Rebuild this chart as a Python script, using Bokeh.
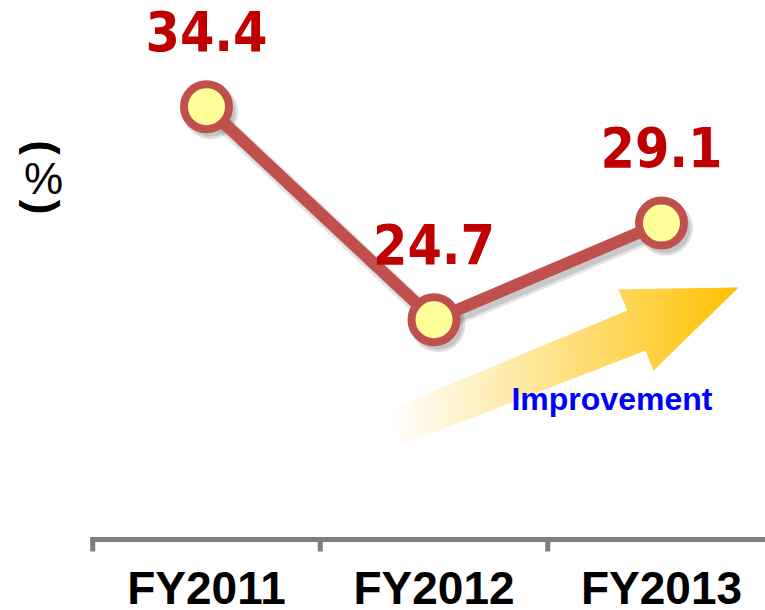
from bokeh.plotting import figure
from bokeh.models import Range1d, Label, ColumnDataSource
from bokeh.core.properties import value
from bokeh.embed import file_html
from bokeh.resources import INLINE
import math

# ---- data ----
categories = ["FY2011", "FY2012", "FY2013"]
ratio = [34.4, 24.7, 29.1]
value_labels = ["34.4", "24.7", "29.1"]
unit_label = "%"
arrow_text = "Improvement"

# arrow outline in data units (category index, value)
arrow_x = [0.7956, 1.8505, 1.8110, 2.3385, 1.9648, 1.9297, 0.8527]
arrow_y = [20.566, 25.119, 26.076, 26.167, 22.387, 23.298, 18.972]

idx = list(range(len(categories)))
boundaries = [i - 0.5 for i in idx]

LINE_RED = "#C0504D"
VAL_RED = "#C00000"
AXIS_GRAY = "#7F7F7F"

X0, X1 = -0.9055, 2.4571
Y0, Y1 = 11.458, 39.236
AXIS_Y = 14.691          # value level where the category axis sits
PX_PER_UNIT = 21.96      # vertical pixels per value unit
PX_PER_CAT = 227.5       # horizontal pixels per category

p = figure(width=765, height=610, output_backend="svg", toolbar_location=None,
           x_range=Range1d(X0, X1), y_range=Range1d(Y0, Y1),
           min_border_left=0, min_border_right=0, min_border_top=0, min_border_bottom=0)
p.outline_line_color = None
p.grid.visible = False
p.xaxis.visible = False
p.yaxis.visible = False
p.background_fill_color = "white"

# ---- category axis (line + boundary ticks) ----
tick_len = 12 / PX_PER_UNIT
p.segment(x0=[boundaries[0] - 2.5 / PX_PER_CAT], y0=[AXIS_Y], x1=[X1], y1=[AXIS_Y],
          line_color=AXIS_GRAY, line_width=5)
p.segment(x0=boundaries, y0=[AXIS_Y] * len(idx), x1=boundaries,
          y1=[AXIS_Y - tick_len] * len(idx), line_color=AXIS_GRAY, line_width=5)

cat_src = ColumnDataSource(dict(x=idx, y=[AXIS_Y] * len(idx), t=categories))
p.text(x="x", y="y", text="t", source=cat_src, text_align="center",
       text_baseline="middle", y_offset=48,
       text_font=value("Liberation Sans"), text_font_style="bold",
       text_font_size="46px", text_color="black")

# ---- gradient arrow (vertical strips) ----
def clip(poly, a, keep_greater):
    out = []
    n = len(poly)
    for k in range(n):
        P = poly[k]
        Q = poly[(k + 1) % n]
        inP = P[0] >= a if keep_greater else P[0] <= a
        inQ = Q[0] >= a if keep_greater else Q[0] <= a
        if inP:
            out.append(P)
        if inP != inQ:
            t = (a - P[0]) / (Q[0] - P[0])
            out.append((a, P[1] + t * (Q[1] - P[1])))
    return out

poly = list(zip(arrow_x, arrow_y))
ax0, ax1 = min(arrow_x), max(arrow_x)
N = 90
w = (ax1 - ax0) / N
sx, sy, cols = [], [], []
for k in range(N):
    a = ax0 + k * w
    b = a + w * 1.4
    piece = clip(clip(poly, a, True), b, False)
    if len(piece) < 3:
        continue
    t = (k + 0.5) / N
    f = t ** 1.05
    g = int(round(255 - (255 - 192) * f))
    bl = int(round(255 - 255 * f))
    sx.append([q[0] for q in piece])
    sy.append([q[1] for q in piece])
    cols.append("#%02X%02X%02X" % (255, g, bl))
p.patches(xs=sx, ys=sy, fill_color=cols, line_color=None)

# ---- shadows ----
dx = 4 / PX_PER_CAT
dy = -5 / PX_PER_UNIT
sh_x = [i + dx for i in idx]
sh_y = [v + dy for v in ratio]
p.line(sh_x, sh_y, line_color="#000000", line_alpha=0.10, line_width=17, line_join="round", line_cap="round")
p.line(sh_x, sh_y, line_color="#000000", line_alpha=0.12, line_width=12, line_join="round", line_cap="round")
p.scatter(sh_x, sh_y, size=55, fill_color="#000000", fill_alpha=0.12, line_color=None)
p.scatter(sh_x, sh_y, size=50, fill_color="#000000", fill_alpha=0.12, line_color=None)

# ---- main line and markers ----
p.line(idx, ratio, line_color=LINE_RED, line_width=12, line_join="round")
p.scatter(idx, ratio, size=45, fill_color="#FFFF99", line_color=LINE_RED, line_width=8)

src = ColumnDataSource(dict(x=idx, y=ratio, t=value_labels))
p.text(x="x", y="y", text="t", source=src, text_align="center", text_baseline="middle",
       y_offset=-76, text_color=VAL_RED,
       text_font=value("DejaVu Sans Condensed, DejaVu Sans"), text_font_style="bold",
       text_font_size="55px")

# Improvement label
p.add_layout(Label(x=1.782, y=21.089, text=arrow_text, text_align="center",
                   text_baseline="middle", text_color="#0000FF",
                   text_font="Liberation Sans", text_font_style="bold", text_font_size="32px"))

# vertical (%) unit label: parentheses turned a quarter turn clockwise
UX = -0.7165
p.add_layout(Label(x=UX, y=32.54, text="(", angle=-math.pi / 2, text_align="center",
                   text_baseline="middle", text_font="Liberation Sans", text_font_size="44px",
                   text_font_style="bold", text_color="black"))
p.add_layout(Label(x=UX, y=31.13, text=unit_label, text_align="center",
                   text_baseline="middle", text_font="Liberation Sans", text_font_size="44px",
                   text_color="black"))
p.add_layout(Label(x=UX, y=29.83, text=")", angle=-math.pi / 2, text_align="center",
                   text_baseline="middle", text_font="Liberation Sans", text_font_size="44px",
                   text_font_style="bold", text_color="black"))

open("out.html", "w").write(file_html(p, INLINE))
